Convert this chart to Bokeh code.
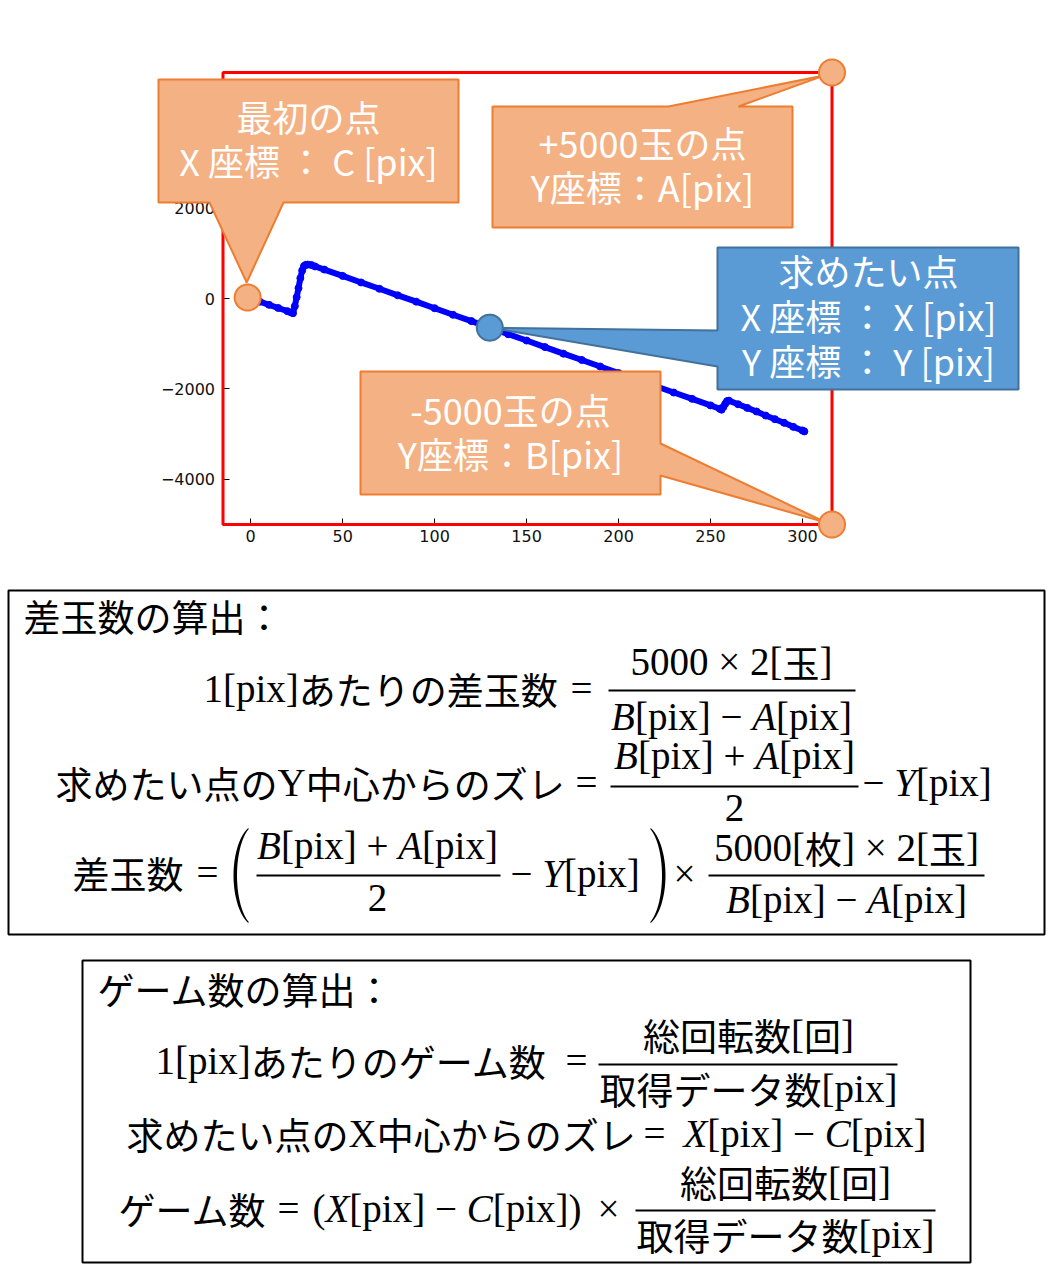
import math
from bokeh.plotting import figure
from bokeh.models import Range1d, FixedTicker, PolyAnnotation, Label, CustomJSTickFormatter
from bokeh.embed import file_html
from bokeh.resources import INLINE

# ---------------- data ----------------
game_x = [0, 5, 10, 15, 20, 22, 23, 24, 25, 26, 27, 28, 29, 30, 31, 33, 35, 40,
          50, 60, 70, 80, 90, 100, 110, 120, 130, 140, 150, 160, 170, 180, 190,
          200, 210, 220, 230, 240, 250, 255, 256, 257, 258, 259, 260, 265, 270,
          275, 280, 285, 290, 295, 300, 301]
diff_y = [0, -70, -140, -210, -280, -310, -325, -170, 30, 230, 450, 620, 720, 745,
          750, 740, 710, 640, 500, 355, 215, 70, -70, -215, -360, -500, -645, -790,
          -930, -1075, -1220, -1360, -1505, -1650, -1790, -1935, -2080, -2220,
          -2365, -2440, -2460, -2400, -2330, -2270, -2260, -2340, -2420, -2500,
          -2590, -2670, -2750, -2840, -2920, -2940]
x_ticks = [0, 50, 100, 150, 200, 250, 300]
y_ticks = [-4000, -2000, 0, 2000, 4000]
target_index = 26  # the point "求めたい点" (x=130)

callout_first = ["最初の点", "X 座標 ： C [pix]"]
callout_top = ["+5000玉の点", "Y座標：A[pix]"]
callout_target = ["求めたい点", "X 座標 ： X [pix]", "Y 座標 ： Y [pix]"]
callout_bottom = ["-5000玉の点", "Y座標：B[pix]"]
title_diff = "差玉数の算出："
title_game = "ゲーム数の算出："

# ---------------- geometry (page pixels) ----------------
W, H = 1046, 1264
X0, X1 = -15.05, 316.05          # chart x limits
Y0, Y1 = -5000, 5000             # chart y limits
FL, FR, FT, FB = 222.5, 831.5, 72.0, 524.0   # chart box in page pixels


def dx(px):
    return X0 + (px - FL) * (X1 - X0) / (FR - FL)


def dy(py):
    return Y1 - (py - FT) * (Y1 - Y0) / (FB - FT)


def px_of(x):
    return FL + (x - X0) * (FR - FL) / (X1 - X0)


def py_of(y):
    return FT + (Y1 - y) * (FB - FT) / (Y1 - Y0)


p = figure(width=W, height=H, x_range=Range1d(dx(0), dx(W)), y_range=Range1d(dy(H), dy(0)),
           output_backend="svg", toolbar_location=None,
           min_border=0, min_border_left=0, min_border_right=0, min_border_top=0,
           min_border_bottom=0,
           outline_line_color=None, background_fill_color="white", border_fill_color="white")
p.xgrid.visible = False
p.ygrid.visible = False
p.xaxis.ticker = FixedTicker(ticks=x_ticks)
p.yaxis.ticker = FixedTicker(ticks=y_ticks)
p.xaxis.fixed_location = Y0
p.yaxis.fixed_location = X0
p.yaxis.formatter = CustomJSTickFormatter(
    code="return tick < 0 ? '\u2212' + String(-tick) : String(tick);")
for ax in (p.xaxis[0], p.yaxis[0]):
    ax.axis_line_color = None
    ax.major_tick_in = 6
    ax.major_tick_out = 0
    ax.minor_tick_line_color = None
    ax.major_tick_line_color = "black"
    ax.major_label_text_font = "DejaVu Sans"
    ax.major_label_text_font_size = "16px"
    ax.major_label_text_color = "#111111"
p.yaxis.major_label_standoff = 8
p.xaxis.major_label_standoff = 5

# data line
p.line(game_x, diff_y, line_color="#0000FF", line_width=6)
p.scatter(game_x, diff_y, size=7, color="#0000FF")

ORF, ORL = "#F4B183", "#ED7D31"
BLF, BLL = "#5B9BD5", "#41719C"
JP = "Noto Sans CJK JP"
SERIF = "Liberation Serif"


def poly(pts, fill, line, lw=2):
    p.add_layout(PolyAnnotation(xs=[dx(a) for a, b in pts], ys=[dy(b) for a, b in pts],
                                fill_color=fill, fill_alpha=1.0 if fill else 0.0,
                                line_color=line, line_width=lw,
                                line_alpha=1.0 if line else 0.0))


def circ(cx, cy, r, fill, line):
    pts = [(cx + r * math.cos(2 * math.pi * k / 60), cy + r * math.sin(2 * math.pi * k / 60))
           for k in range(60)]
    poly(pts, fill, line, 2)


def lab(xp, yp, text, font, size, color="black", align="left", baseline="alphabetic",
        style="normal"):
    if baseline == "alphabetic":
        yp = yp - 0.38 * size   # renderer places alphabetic text lower; compensate
    p.add_layout(Label(x=dx(xp), y=dy(yp), text=text, text_font=font,
                       text_font_size=f"{size}px", text_color=color, text_align=align,
                       text_baseline=baseline, text_font_style=style))


# red chart box
fl, fr, ft, fb = px_of(X0), px_of(X1), py_of(Y1), py_of(Y0)
poly([(fl, ft), (fr, ft), (fr, fb), (fl, fb)], None, "#FF0000", 3)

# callouts
c0x, c0y = px_of(game_x[0]) - 3, py_of(diff_y[0]) - 1
ctx_, cty_ = px_of(game_x[target_index]), py_of(diff_y[target_index])

poly([(158, 79), (458, 79), (458, 202), (283, 202), (c0x - 1, c0y - 15), (209, 202), (158, 202)], ORF, ORL)
poly([(492, 106), (668, 106), (fr - 8, ft + 3), (738, 106), (792, 106), (792, 227), (492, 227)], ORF, ORL)
poly([(717, 247), (1018, 247), (1018, 389), (717, 389), (717, 366), (ctx_, cty_), (717, 330)], BLF, BLL)
poly([(360, 371), (660, 371), (660, 443), (fr - 6, fb - 2), (660, 475), (660, 494), (360, 494)], ORF, ORL)

for i, t in enumerate(callout_first):
    lab(308, 115 + 44 * i, t, JP, 36, "white", "center", "middle")
for i, t in enumerate(callout_top):
    lab(642, 141 + 44 * i, t, JP, 36, "white", "center", "middle")
for i, t in enumerate(callout_target):
    lab(868, 269 + 45 * i, t, JP, 36, "white", "center", "middle")
for i, t in enumerate(callout_bottom):
    lab(510, 408 + 44 * i, t, JP, 36, "white", "center", "middle")

circ(c0x, c0y, 13, ORF, ORL)
circ(fr, ft, 13, ORF, ORL)
circ(fr, fb, 13, ORF, ORL)
circ(ctx_, cty_, 13, BLF, BLL)

# ---------------- formulas ----------------
MS = 39   # Latin math size
MJ = 37   # Japanese size inside formulas
WR = {'[': .333, ']': .333, '(': .333, ')': .333, 'p': .5, 'i': .278, 'x': .5, ' ': .25,
      '−': .564, '+': .564, '×': .564, '=': .564, 'X': .722, 'Y': .722}
WI = {'A': .611, 'B': .611, 'C': .667, 'X': .611, 'Y': .556}


def tw(s, st):
    if st == "j":
        return len(s) * MJ
    tot = 0.0
    for ch in s:
        if st == "i" and ch in WI:
            tot += WI[ch]
        elif ch in WR:
            tot += WR[ch]
        else:
            tot += 0.5
    return tot * MS


def seq(x0, base, segs):
    x = x0
    for s, st in segs:
        if st == "j":
            lab(x, base, s, JP, MJ)
        else:
            lab(x, base, s, SERIF, MS, style="italic" if st == "i" else "normal")
        x += tw(s, st)
    return x


def seq_c(xc, base, segs):
    tot = sum(tw(s, st) for s, st in segs)
    return seq(xc - tot / 2, base, segs)


def bar(x0, x1, y):
    poly([(x0, y - 1), (x1, y - 1), (x1, y + 1), (x0, y + 1)], "black", None, 0)


def paren(x_outer, ytop, ybot, left=True):
    h = (ybot - ytop) / 2
    cy = (ytop + ybot) / 2
    th = 1.15
    b = h / math.sin(th)
    ao, ai = 24, 20.5
    sgn = -1 if left else 1
    xc = x_outer + ao if left else x_outer - ao
    n = 30
    outer = [(xc + sgn * ao * math.cos(-th + 2 * th * k / n), cy + b * math.sin(-th + 2 * th * k / n))
             for k in range(n + 1)]
    inner = [(xc + sgn * ai * math.cos(th - 2 * th * k / n), cy + b * math.sin(th - 2 * th * k / n))
             for k in range(n + 1)]
    poly(outer + inner, "black", None, 0)


BpA = [("B", "i"), ("[pix] + ", "r"), ("A", "i"), ("[pix]", "r")]
BmA = [("B", "i"), ("[pix] − ", "r"), ("A", "i"), ("[pix]", "r")]
mY = [("− ", "r"), ("Y", "i"), ("[pix]", "r")]
total_rot = [("総回転数", "j"), ("[", "r"), ("回", "j"), ("]", "r")]
data_cnt = [("取得データ数", "j"), ("[pix]", "r")]

# box 1
poly([(8, 590), (1044, 590), (1044, 934), (8, 934)], None, "black", 2)
lab(23, 615, title_diff, JP, 37, baseline="middle")
seq(203, 703, [("1[pix]", "r"), ("あたりの差玉数", "j")])
seq(570, 703, [("=", "r")])
bar(608, 855, 690)
seq_c(731, 676, [("5000 × 2[", "r"), ("玉", "j"), ("]", "r")])
seq_c(731, 731, BmA)

seq(55, 797, [("求めたい点の", "j"), ("Y", "r"), ("中心からのズレ", "j")])
seq(575, 797, [("=", "r")])
bar(610, 858, 786)
seq_c(734, 770, BpA)
seq_c(734, 822, [("2", "r")])
seq(862, 797, mY)

seq(72, 887, [("差玉数", "j")])
seq(196, 887, [("=", "r")])
paren(233, 828, 922, True)
bar(256, 500, 875)
seq_c(377, 860, BpA)
seq_c(377, 912, [("2", "r")])
seq(510, 888, mY)
paren(665, 828, 922, False)
seq(673, 888, [("×", "r")])
bar(708, 984, 875)
seq_c(846, 862, [("5000[", "r"), ("枚", "j"), ("] × 2[", "r"), ("玉", "j"), ("]", "r")])
seq_c(846, 914, BmA)

# box 2
poly([(82, 960), (970, 960), (970, 1262), (82, 1262)], None, "black", 2)
lab(97, 988, title_game, JP, 37, baseline="middle")
seq(155, 1075, [("1[pix]", "r"), ("あたりのゲーム数", "j")])
seq(565, 1075, [("=", "r")])
bar(598, 897, 1064)
seq_c(748, 1049, total_rot)
seq_c(748, 1103, data_cnt)

seq(126, 1148, [("求めたい点の", "j"), ("X", "r"), ("中心からのズレ", "j")])
seq(643, 1148, [("=", "r")])
seq(683, 1148, [("X", "i"), ("[pix] − ", "r"), ("C", "i"), ("[pix]", "r")])

seq(118, 1223, [("ゲーム数", "j")])
seq(277, 1223, [("=", "r")])
seq(312, 1223, [("(", "r"), ("X", "i"), ("[pix] − ", "r"), ("C", "i"), ("[pix])", "r")])
seq(597, 1223, [("×", "r")])
bar(635, 935, 1210)
seq_c(785, 1196, total_rot)
seq_c(785, 1249, data_cnt)

with open("out.html", "w", encoding="utf-8") as f:
    f.write(file_html(p, INLINE))
